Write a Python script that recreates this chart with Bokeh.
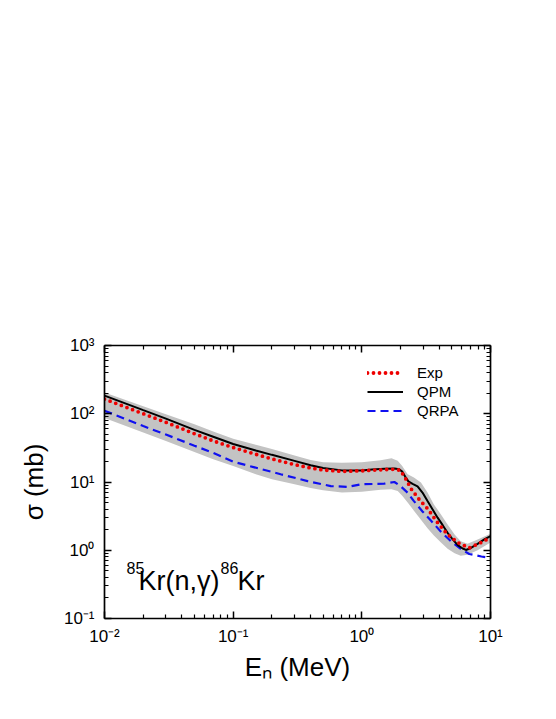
from bokeh.plotting import figure
from bokeh.models import (LogAxis, FixedTicker, Label, Legend, LegendItem,
                          CustomJSTickFormatter, Range1d)
from bokeh.embed import file_html
from bokeh.resources import INLINE

# ---------------- data ----------------
exp_E = [0.01, 0.02, 0.03, 0.05, 0.07, 0.1, 0.15, 0.2, 0.3, 0.4, 0.5, 0.7,
         1.0, 1.5, 1.8, 2.0, 2.2, 2.43, 2.79, 3.28, 3.84, 4.58, 5.56, 6.84, 8.7, 10.0]
exp_S = [164, 100, 75, 51, 40, 32, 25.5, 21.8, 18.0, 16.0, 15.0, 14.3,
         14.6, 15.2, 15.4, 14.8, 11.0, 7.8, 5.56, 3.96, 2.6, 1.75, 1.3, 1.08, 1.33, 1.55]

qpm_E = [0.01, 0.02, 0.03, 0.05, 0.07, 0.1, 0.15, 0.2, 0.3, 0.4, 0.5, 0.7,
         1.0, 1.2, 1.5, 1.8, 1.95, 2.06, 2.17, 2.3, 2.48, 2.71, 2.96, 3.24, 3.55,
         3.88, 4.25, 4.64, 5.08, 5.56, 6.08, 6.44, 7.05, 7.94, 8.95, 10.0]
qpm_S = [184, 113, 85, 58, 46, 36, 29, 25, 20.4, 17.6, 16.0, 14.8,
         14.8, 15.3, 15.6, 15.8, 15.4, 14.2, 12.0, 10.2, 9.4, 8.65, 7.0, 5.25, 3.96,
         3.0, 2.33, 1.80, 1.44, 1.19, 1.06, 1.01, 1.08, 1.24, 1.44, 1.61]

qrpa_E = [0.01, 0.02, 0.03, 0.05, 0.07, 0.1, 0.234, 0.379, 0.574, 0.776,
          0.98, 1.49, 1.79, 2.0, 2.27, 2.54, 2.96, 3.44, 4.12, 4.93, 5.87,
          6.84, 8.5, 10.0]
qrpa_S = [111, 66, 49.6, 34, 26.7, 19.8, 13.0, 10.3, 8.7, 8.5,
          9.25, 9.45, 10.0, 8.7, 6.97, 5.25, 3.7, 2.73, 1.87, 1.35, 1.05,
          0.88, 0.81, 0.77]

band_E = [0.01, 0.02, 0.03, 0.05, 0.07, 0.1, 0.15, 0.2, 0.3, 0.4, 0.5, 0.7,
          1.0, 1.4, 1.7, 1.9, 2.06, 2.27, 2.54, 2.88, 3.24, 3.63, 4.12, 4.64,
          5.26, 5.87, 6.63, 7.94, 10.0]
band_hi = [205, 129, 98, 70, 55, 43, 35, 30.5, 24.5, 21, 19.5, 19.2,
           19.4, 20.8, 22.3, 20.4, 17.2, 13.0, 11.6, 9.8, 7.0, 4.7, 3.35, 2.39,
           1.70, 1.36, 1.24, 1.44, 1.74]
band_lo = [87, 53, 40, 27.5, 21.5, 17.2, 13.0, 11.0, 9.3, 8.2, 7.6, 7.0,
           7.2, 7.7, 7.8, 7.4, 6.3, 5.0, 3.8, 2.8, 2.1, 1.65, 1.3, 1.05,
           0.9, 0.83, 0.86, 1.0, 1.3]

x_major = [0.01, 0.1, 1.0, 10.0]
x_tick_labels = ["10\u207b\u00b2", "10\u207b\u00b9", "10\u2070", "10\u00b9"]
y_major = [0.1, 1.0, 10.0, 100.0, 1000.0]
y_tick_labels = ["10\u207b\u00b9", "10\u2070", "10\u00b9", "10\u00b2", "10\u00b3"]

x_title = "E\u2099 (MeV)"
y_title = "\u03c3 (mb)"

FONT = "Liberation Sans"

# ---------------- figure ----------------
p = figure(width=548, height=711, x_axis_type="log", y_axis_type="log",
           x_range=Range1d(0.01, 10), y_range=Range1d(0.1, 1000),
           min_border_left=104, min_border_right=58, min_border_top=345,
           min_border_bottom=93, output_backend="svg", toolbar_location=None,
           background_fill_color="white", border_fill_color="white")
p.xgrid.visible = False
p.ygrid.visible = False
p.outline_line_color = None


def minors(majors):
    out = []
    for m in majors[:-1]:
        out += [m * k for k in range(2, 10)]
    return out


def formatter(vals, labs):
    return CustomJSTickFormatter(args=dict(vals=vals, labs=labs), code="""
        for (let i = 0; i < vals.length; i++) {
            if (Math.abs(Math.log10(tick) - Math.log10(vals[i])) < 1e-6) return labs[i];
        }
        return '';
    """)


def style_axis(ax, majors, labs=None):
    ax.ticker = FixedTicker(ticks=majors, minor_ticks=minors(majors))
    if labs is None:
        ax.formatter = CustomJSTickFormatter(code="return ''")
        ax.major_label_text_font_size = "0px"
        ax.major_label_standoff = 0
    else:
        ax.formatter = formatter(majors, labs)
        ax.major_label_text_font = FONT
        ax.major_label_text_font_size = "17px"
        ax.major_label_text_color = "black"
    ax.major_tick_in = 7
    ax.major_tick_out = 0
    ax.minor_tick_in = 4
    ax.minor_tick_out = 0
    ax.axis_line_width = 1.7
    ax.major_tick_line_width = 1.5
    ax.minor_tick_line_width = 1.2
    ax.axis_line_color = "black"
    ax.major_tick_line_color = "black"
    ax.minor_tick_line_color = "black"


xa = p.xaxis[0]
ya = p.yaxis[0]
style_axis(xa, x_major, x_tick_labels)
style_axis(ya, y_major, y_tick_labels)
xa.major_label_standoff = 8
ya.major_label_standoff = 10
xa.axis_label = x_title
ya.axis_label = y_title
for ax in (xa, ya):
    ax.axis_label_text_font = FONT
    ax.axis_label_text_font_size = "26px"
    ax.axis_label_text_font_style = "normal"
    ax.axis_label_text_color = "black"
xa.axis_label_standoff = 3
ya.axis_label_standoff = 12

top_ax = LogAxis()
right_ax = LogAxis()
style_axis(top_ax, x_major)
style_axis(right_ax, y_major)
p.add_layout(top_ax, "above")
p.add_layout(right_ax, "right")

# ---------------- glyphs ----------------
p.varea(x=band_E, y1=band_lo, y2=band_hi, fill_color="#c3c3c3")
r_qrpa = p.line(qrpa_E, qrpa_S, line_color="#1010f0", line_width=2.2,
                line_dash="8 5")
r_qpm = p.line(qpm_E, qpm_S, line_color="black", line_width=2)
r_exp = p.line(exp_E, exp_S, line_color="#ee0000", line_width=3.8,
               line_dash="0 6", line_cap="round")

legend = Legend(items=[LegendItem(label="Exp", renderers=[r_exp]),
                       LegendItem(label="QPM", renderers=[r_qpm]),
                       LegendItem(label="QRPA", renderers=[r_qrpa])],
                location=(263, 198), orientation="vertical",
                background_fill_alpha=0, border_line_alpha=0,
                label_text_font=FONT, label_text_font_size="15px",
                label_text_color="black",
                glyph_width=36, glyph_height=19, label_height=19,
                label_standoff=14, spacing=0, padding=0, margin=0)
p.add_layout(legend)

X0, Y0 = x_major[0], y_major[0]   # frame bottom-left corner in data units


def lab(x, y, text, size, xo=0, yo=0):
    p.add_layout(Label(x=x, y=y, text=text, x_offset=xo, y_offset=yo,
                       text_font=FONT, text_font_size=f"{size}px",
                       text_align="left", text_baseline="alphabetic",
                       text_color="black"))


# reaction annotation
lab(X0, Y0, "85", 16, xo=22, yo=51)
lab(X0, Y0, "Kr(n,\u03b3)", 27, xo=34, yo=38)
lab(X0, Y0, "86", 16, xo=116, yo=51)
lab(X0, Y0, "Kr", 27, xo=133, yo=38)

open("out.html", "w").write(file_html(p, INLINE))
